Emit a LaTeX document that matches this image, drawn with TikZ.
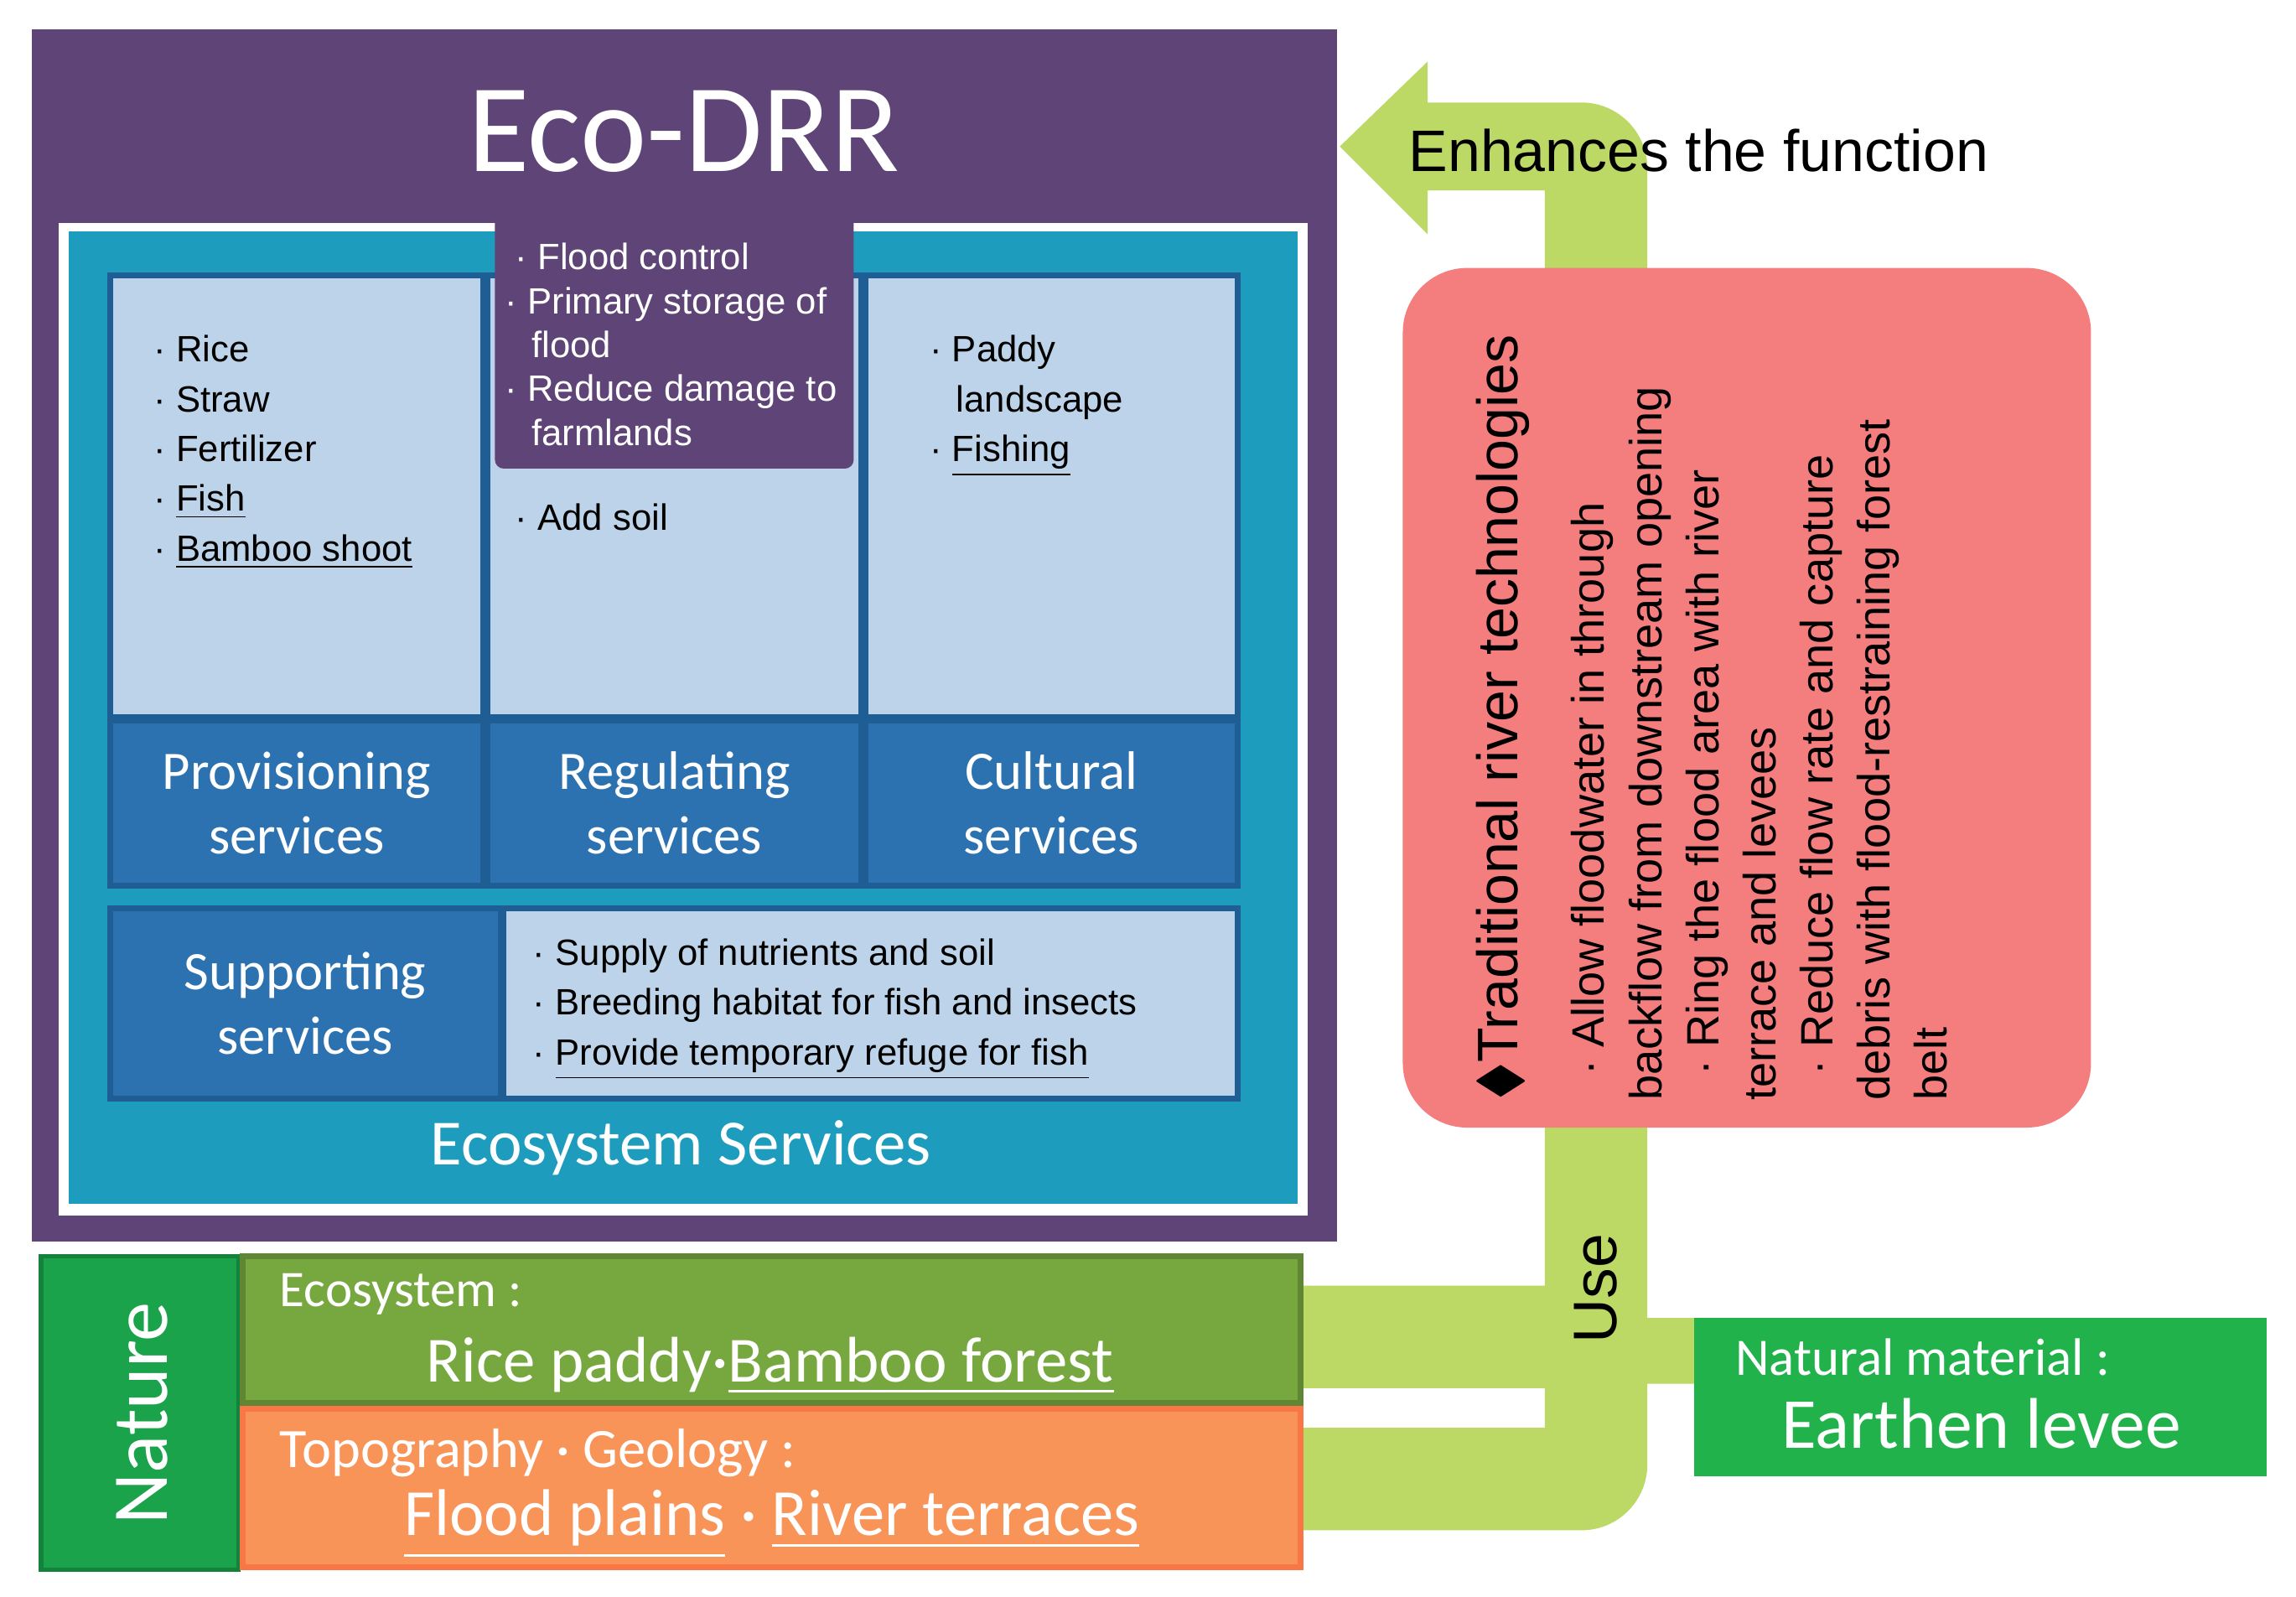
\documentclass[tikz,border=0pt]{standalone}
\usepackage{fontspec}
\usepackage{amssymb}
\setmainfont{Liberation Sans}
\newfontfamily\carl{Carlito}
\begin{document}
\begin{tikzpicture}[x=0.5pt,y=-0.5pt,
  lb/.style={fill=lightb,draw=darkb,line width=2pt},
  db/.style={fill=midb,draw=darkb,line width=2pt},
  lst/.style={font=\fontsize{12.5}{17}\selectfont,align=left,anchor=north west},
  svc/.style={font=\carl\fontsize{18.5}{22}\selectfont,text=white,align=center}]
\definecolor{purp}{HTML}{5F4477}
\definecolor{teal}{HTML}{1E9CBD}
\definecolor{lightb}{HTML}{BDD3E9}
\definecolor{midb}{HTML}{2C72B0}
\definecolor{darkb}{HTML}{1E5E94}
\definecolor{lgreen}{HTML}{BCD865}
\definecolor{olive}{HTML}{77A840}
\definecolor{nat}{HTML}{1AA34A}
\definecolor{orng}{HTML}{F89458}
\definecolor{redb}{HTML}{F47E7E}
\definecolor{matg}{HTML}{22B24C}
\useasboundingbox (0,0) rectangle (1568,1090);
\fill[white] (0,0) rectangle (1568,1090);
% green arrow
\fill[lgreen] (888,878) -- (1055,878) -- (1055,130) -- (975,130) -- (975,160) -- (915,100) -- (975,42) -- (975,70) -- (1080,70) arc[start angle=-90,end angle=0,radius=45] -- (1125,900) -- (1157,900) -- (1157,945) -- (1125,945) -- (1125,1000) arc[start angle=0,end angle=90,radius=45] -- (888,1045) -- (888,975) -- (1055,975) -- (1055,948) -- (888,948) -- cycle;
\node[font=\fontsize{20}{24}\selectfont,anchor=west] (enh) at (955,103) {Enhances the function};
% purple
\fill[purp] (22,20) rectangle (913,848);
\node[font=\carl\fontsize{43}{48}\selectfont,text=white] (title) at (467,90) {Eco-DRR};
\fill[white] (40,152) rectangle (893,830);
\fill[teal] (47,158) rectangle (886,822);
\draw[lb] (75,188) rectangle (330,490);
\draw[lb] (333,188) rectangle (588,490);
\draw[lb] (591,188) rectangle (845,490);
\fill[purp] (338,150) -- (583,150) -- (583,314) arc[start angle=0,end angle=90,radius=6] -- (344,320) arc[start angle=90,end angle=180,radius=6] -- cycle;
\node[lst] (p) at (98,222) {· Rice\\· Straw\\· Fertilizer\\· \underline{Fish}\\· \underline{Bamboo shoot}};
\node[lst,text=white,font=\fontsize{12.5}{15}\selectfont] (r) at (338,159) {\ · Flood control\\· Primary storage of\\\ \ \,flood\\· Reduce damage to\\\ \ \,farmlands};
\node[lst] (r2) at (338,337) {\ · Add soil};
\node[lst] (c) at (628,222) {· Paddy\\\ \ \,landscape\\· \underline{Fishing}};
\draw[db] (75,492) rectangle (330,605) node[svc,midway] (ps) {Provisioning\\services};
\draw[db] (333,492) rectangle (588,605) node[svc,midway] (rs) {Regulating\\services};
\draw[db] (591,492) rectangle (845,605) node[svc,midway] (cs) {Cultural\\services};
\draw[db] (75,620) rectangle (342,750) node[svc,midway] (ss) {Supporting\\services};
\draw[lb] (344,620) rectangle (845,750);
\node[lst] (sl) at (357,634) {· Supply of nutrients and soil\\· Breeding habitat for fish and insects\\· \underline{Provide temporary refuge for fish}};
\node[svc,font=\carl\fontsize{22}{26}\selectfont] (es) at (465,784) {Ecosystem Services};
% nature
\draw[fill=nat,draw=nat!80!black,line width=1.5pt] (28,858) rectangle (163,1072);
\node[rotate=90,text=white,font=\carl\fontsize{27}{30}\selectfont] (nt) at (97,965) {Nature};
\draw[fill=olive,draw=olive!80!black,line width=2pt] (166,858) rectangle (888,958);
\node[anchor=west,text=white,font=\carl\fontsize{17.5}{20}\selectfont] (e1) at (184,884) {Ecosystem :};
\node[text=white,font=\carl\fontsize{22}{26}\selectfont] (e2) at (526,933) {Rice paddy\textperiodcentered\underline{Bamboo forest}};
\draw[fill=orng,draw=orng!80!red,line width=2pt] (166,962) rectangle (888,1070);
\node[anchor=west,text=white,font=\carl\fontsize{19}{22}\selectfont] (t1) at (184,992) {Topography \textperiodcentered\ Geology :};
\node[text=white,font=\carl\fontsize{22.5}{26}\selectfont] (t2) at (527,1041) {\underline{Flood plains} \textperiodcentered\ \underline{River terraces}};
% red box
\fill[redb,rounded corners=22pt] (958,183) rectangle (1428,770);
\node[rotate=90,anchor=north west,align=left,inner sep=0pt,font=\fontsize{15.5}{19.5}\selectfont] (tr) at (1008,752) {{\fontsize{19.5}{20}\selectfont $\blacklozenge$Traditional river technologies}\\[10pt]
\ \ · Allow floodwater in through\\backflow from downstream opening\\\ \ · Ring the flood area with river\\terrace and levees\\\ \ · Reduce flow rate and capture\\debris with flood-restraining forest\\belt};
\node[rotate=90,font=\fontsize{21}{24}\selectfont] (use) at (1090,880) {Use};
\fill[matg] (1157,900) rectangle (1548,1008);
\node[anchor=west,text=white,font=\carl\fontsize{18}{20}\selectfont] (m1) at (1178,927) {Natural material :};
\node[text=white,font=\carl\fontsize{24.5}{28}\selectfont] (m2) at (1353,972) {Earthen levee};
\end{tikzpicture}
\end{document}
